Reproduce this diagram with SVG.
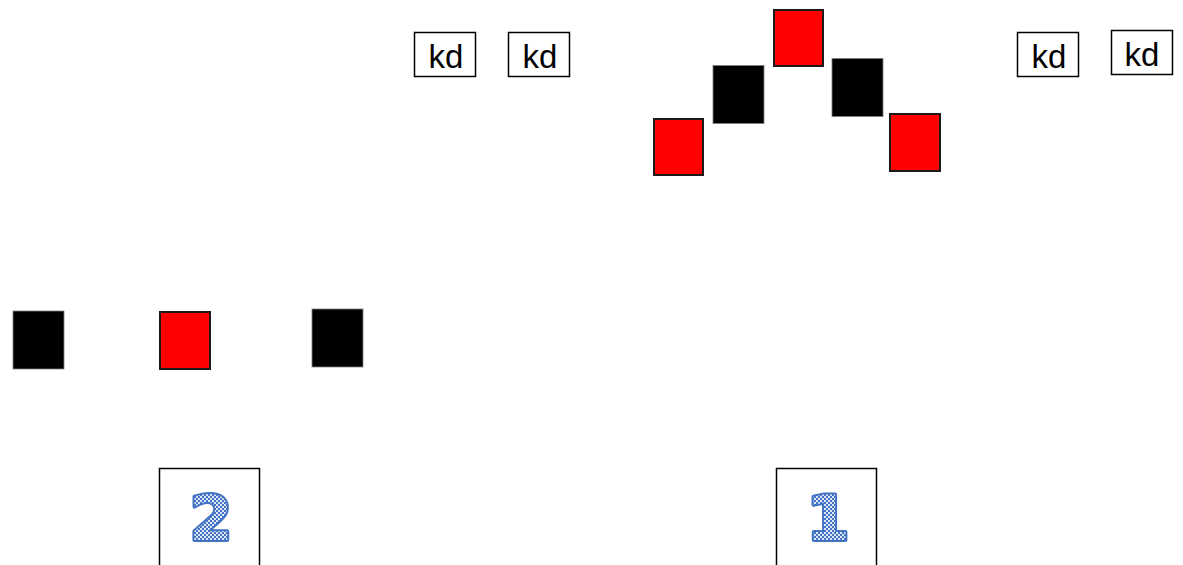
<svg xmlns="http://www.w3.org/2000/svg" width="1183" height="565" viewBox="0 0 1183 565">
<style>
.red{fill:#ff0000;stroke:#1a1a1a;stroke-width:2}
.blk{fill:#000000;stroke:#7f7f7f;stroke-width:0.8}
.lbl{fill:#ffffff;stroke:#000000;stroke-width:1.5}
.kd{font-family:"Liberation Sans",Arial,sans-serif;font-size:33px;fill:#000000;text-anchor:middle}
.num{fill:#ffffff;stroke:#000000;stroke-width:1.5}
.digit{font-family:"DejaVu Sans",sans-serif;font-weight:bold;font-size:62px;fill:url(#chk);stroke:#4472c4;stroke-width:4;stroke-linejoin:round;paint-order:stroke;text-anchor:middle}
</style>
<defs>
<pattern id="chk" width="4" height="4" patternUnits="userSpaceOnUse">
<rect width="4" height="4" fill="#4472c4"/>
<rect width="2" height="2" fill="#dce6f5"/>
<rect x="2" y="2" width="2" height="2" fill="#dce6f5"/>
</pattern>
</defs>
<rect width="1183" height="565" fill="#ffffff"/>
<g id="connectors"></g>
<g id="kd1"><rect class="lbl" x="414.5" y="32.5" width="61" height="44"/><text class="kd" x="446" y="68">kd</text></g>
<g id="kd2"><rect class="lbl" x="508.5" y="32.5" width="61" height="44"/><text class="kd" x="540" y="68">kd</text></g>
<g id="kd3"><rect class="lbl" x="1017.5" y="32.5" width="61" height="44"/><text class="kd" x="1049" y="68">kd</text></g>
<g id="kd4"><rect class="lbl" x="1111.5" y="30.5" width="61" height="44"/><text class="kd" x="1142" y="66">kd</text></g>
<g id="redTop"><rect class="red" x="774" y="10" width="49" height="56"/></g>
<g id="blackLeft"><rect class="blk" x="713" y="65.5" width="51" height="58"/></g>
<g id="redLeft"><rect class="red" x="654" y="119" width="49" height="56"/></g>
<g id="blackRight"><rect class="blk" x="832" y="58.5" width="51" height="58"/></g>
<g id="redRight"><rect class="red" x="890" y="114" width="50" height="57"/></g>
<g id="black1"><rect class="blk" x="13" y="311" width="51" height="58"/></g>
<g id="red2"><rect class="red" x="160" y="312" width="50" height="57"/></g>
<g id="black3"><rect class="blk" x="312" y="309" width="51" height="58"/></g>
<g id="box2"><rect class="num" x="159.5" y="468.5" width="100" height="110"/><text class="digit" x="211" y="540">2</text></g>
<g id="box1"><rect class="num" x="776.5" y="468.5" width="100" height="110"/><text class="digit" x="828" y="540">1</text></g>
</svg>
